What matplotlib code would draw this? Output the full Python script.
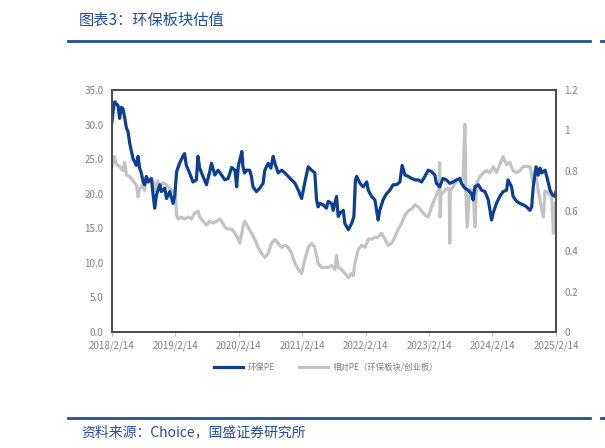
import pandas as pd
import matplotlib
matplotlib.use("Agg")
import matplotlib.pyplot as plt
from matplotlib.lines import Line2D

plt.rcParams['font.family'] = ['Noto Sans CJK SC', 'DejaVu Sans']

# 环保PE (left axis)
pe_dates = ['2018-02-14', '2018-02-23', '2018-03-02', '2018-03-10', '2018-03-20', '2018-03-30',
            '2018-04-08', '2018-04-18', '2018-04-28', '2018-05-08', '2018-05-17', '2018-05-27',
            '2018-06-06', '2018-06-16', '2018-06-25', '2018-07-04', '2018-07-14', '2018-07-23',
            '2018-08-02', '2018-08-12', '2018-08-21', '2018-08-31', '2018-09-10', '2018-09-29',
            '2018-10-09', '2018-10-18', '2018-10-28', '2018-11-16', '2018-11-26', '2018-12-15',
            '2018-12-25', '2019-01-13', '2019-02-01', '2019-02-11', '2019-02-21', '2019-03-10',
            '2019-03-29', '2019-04-08', '2019-04-18', '2019-05-07', '2019-05-26', '2019-06-15',
            '2019-06-24', '2019-07-04', '2019-07-23', '2019-08-12', '2019-08-31', '2019-09-10',
            '2019-09-29', '2019-10-18', '2019-11-07', '2019-11-26', '2019-12-15', '2020-01-04',
            '2020-01-23', '2020-02-02', '2020-02-11', '2020-02-20', '2020-03-03', '2020-03-09',
            '2020-03-19', '2020-03-29', '2020-04-17', '2020-04-27', '2020-05-06', '2020-05-26',
            '2020-06-14', '2020-07-03', '2020-07-13', '2020-08-01', '2020-08-17', '2020-08-30',
            '2020-09-09', '2020-09-28', '2020-10-18', '2020-11-06', '2020-11-25', '2020-12-14',
            '2021-01-03', '2021-01-22', '2021-02-10', '2021-03-01', '2021-03-20', '2021-04-08',
            '2021-04-27', '2021-05-07', '2021-05-16', '2021-05-26', '2021-06-14', '2021-07-03',
            '2021-07-13', '2021-08-01', '2021-08-11', '2021-08-30', '2021-09-09', '2021-09-19',
            '2021-10-08', '2021-10-17', '2021-11-06', '2021-11-25', '2021-12-08', '2021-12-17',
            '2021-12-24', '2022-01-12', '2022-01-31', '2022-02-20', '2022-03-01', '2022-03-20',
            '2022-04-08', '2022-04-27', '2022-05-06', '2022-05-25', '2022-06-14', '2022-07-03',
            '2022-07-22', '2022-08-11', '2022-08-30', '2022-09-12', '2022-09-28', '2022-10-17',
            '2022-11-06', '2022-11-25', '2022-12-14', '2023-01-02', '2023-01-21', '2023-02-09',
            '2023-02-28', '2023-03-19', '2023-03-28', '2023-04-16', '2023-05-05', '2023-05-25',
            '2023-06-13', '2023-07-02', '2023-07-22', '2023-08-10', '2023-08-20', '2023-09-08',
            '2023-09-27', '2023-10-17', '2023-10-26', '2023-11-05', '2023-11-24', '2023-12-14',
            '2024-01-02', '2024-01-21', '2024-02-09', '2024-02-18', '2024-03-08', '2024-03-27',
            '2024-04-15', '2024-05-05', '2024-05-14', '2024-06-03', '2024-06-12', '2024-07-02',
            '2024-07-21', '2024-08-09', '2024-08-29', '2024-09-17', '2024-09-27', '2024-10-06',
            '2024-10-22', '2024-11-04', '2024-11-14', '2024-11-24', '2024-12-13', '2024-12-26',
            '2025-01-11', '2025-01-26', '2025-02-09', '2025-02-14']
pe_values = [30.4, 32.5, 33.3, 33.0, 32.8, 30.9,
             32.5, 32.3, 31.0, 29.5, 29.0, 27.3,
             26.1, 25.0, 24.6, 24.1, 25.4, 23.7,
             23.0, 21.7, 21.3, 22.5, 21.7, 22.2,
             19.8, 17.9, 19.8, 21.3, 20.3, 20.8,
             19.3, 20.3, 18.6, 19.8, 23.2, 24.4,
             25.4, 25.8, 24.1, 23.0, 21.7, 22.0,
             25.4, 23.7, 22.5, 21.3, 23.2, 24.4,
             22.7, 23.4, 22.7, 22.0, 22.2, 23.8,
             23.4, 21.0, 23.9, 24.9, 26.1, 23.9,
             23.0, 23.4, 23.4, 22.5, 21.0, 20.3,
             20.8, 21.5, 23.4, 24.4, 23.7, 25.4,
             24.4, 23.0, 23.4, 23.0, 22.5, 22.0,
             21.5, 20.5, 19.3, 21.7, 23.9, 23.4,
             23.0, 19.1, 18.1, 18.6, 18.4, 17.9,
             18.9, 18.6, 17.6, 19.6, 16.7, 17.2,
             17.6, 15.7, 14.8, 15.7, 16.7, 22.0,
             22.5, 21.5, 21.0, 21.7, 20.5, 19.6,
             19.1, 16.2, 17.6, 19.1, 20.0, 20.5,
             21.3, 21.3, 21.7, 24.1, 22.7, 22.5,
             22.2, 22.0, 22.0, 21.7, 22.5, 23.4,
             23.2, 22.7, 21.5, 21.0, 22.2, 22.0,
             21.5, 21.7, 22.0, 22.2, 21.5, 20.8,
             20.5, 20.0, 19.1, 21.0, 21.3, 20.5,
             20.3, 19.1, 16.2, 17.2, 18.6, 19.6,
             20.3, 20.5, 22.0, 21.0, 19.6, 18.9,
             18.6, 18.4, 18.1, 17.6, 18.1, 21.0,
             23.9, 22.7, 23.7, 23.0, 23.4, 22.2,
             20.5, 19.8, 19.6, 20.3]

# 相对PE（环保板块/创业板） (right axis)
rel_dates = ['2018-02-14', '2018-02-27', '2018-03-13', '2018-03-30', '2018-04-18', '2018-04-28',
             '2018-05-08', '2018-05-27', '2018-06-15', '2018-07-04', '2018-07-14', '2018-07-23',
             '2018-08-12', '2018-08-21', '2018-08-31', '2018-09-19', '2018-10-09', '2018-10-18',
             '2018-11-03', '2018-11-16', '2018-12-05', '2018-12-25', '2019-01-13', '2019-02-01',
             '2019-02-15', '2019-02-21', '2019-03-02', '2019-03-21', '2019-04-08', '2019-04-28',
             '2019-05-17', '2019-06-05', '2019-06-24', '2019-07-04', '2019-07-23', '2019-08-12',
             '2019-08-31', '2019-09-19', '2019-10-08', '2019-10-28', '2019-11-07', '2019-11-26',
             '2019-12-15', '2020-01-04', '2020-01-23', '2020-02-11', '2020-02-20', '2020-03-09',
             '2020-03-19', '2020-04-07', '2020-04-27', '2020-05-16', '2020-06-04', '2020-06-24',
             '2020-07-13', '2020-08-01', '2020-08-21', '2020-09-09', '2020-09-28', '2020-10-18',
             '2020-11-06', '2020-11-25', '2020-12-14', '2021-01-03', '2021-01-22', '2021-02-10',
             '2021-03-01', '2021-03-20', '2021-04-08', '2021-04-27', '2021-05-16', '2021-06-05',
             '2021-06-24', '2021-07-13', '2021-08-01', '2021-08-21', '2021-08-30', '2021-09-09',
             '2021-09-28', '2021-10-17', '2021-11-06', '2021-11-25', '2021-12-04', '2021-12-14',
             '2022-01-02', '2022-01-22', '2022-02-10', '2022-03-01', '2022-03-20', '2022-04-08',
             '2022-04-27', '2022-05-16', '2022-06-05', '2022-06-24', '2022-07-13', '2022-08-01',
             '2022-08-21', '2022-09-09', '2022-09-28', '2022-10-17', '2022-11-06', '2022-11-25',
             '2022-12-14', '2023-01-02', '2023-01-21', '2023-02-09', '2023-02-28', '2023-03-19',
             '2023-04-07', '2023-04-12', '2023-04-16', '2023-04-19', '2023-04-24', '2023-05-05',
             '2023-05-25', '2023-06-10', '2023-06-13', '2023-06-16', '2023-07-02', '2023-07-22',
             '2023-08-10', '2023-08-29', '2023-09-08', '2023-09-14', '2023-09-21', '2023-10-06',
             '2023-10-26', '2023-11-05', '2023-11-15', '2023-12-04', '2023-12-23', '2024-01-12',
             '2024-01-31', '2024-02-18', '2024-03-08', '2024-03-27', '2024-04-15', '2024-05-05',
             '2024-05-24', '2024-06-12', '2024-07-02', '2024-07-21', '2024-08-09', '2024-08-29',
             '2024-09-17', '2024-10-06', '2024-10-16', '2024-11-04', '2024-11-14', '2024-12-03',
             '2024-12-13', '2025-01-01', '2025-01-21', '2025-01-30', '2025-02-09', '2025-02-14']
rel_values = [0.82, 0.87, 0.83, 0.82, 0.80, 0.84,
              0.78, 0.77, 0.75, 0.73, 0.67, 0.71,
              0.73, 0.70, 0.77, 0.75, 0.75, 0.70,
              0.75, 0.72, 0.74, 0.73, 0.71, 0.70,
              0.68, 0.58, 0.56, 0.57, 0.56, 0.57,
              0.56, 0.59, 0.60, 0.57, 0.55, 0.53,
              0.55, 0.54, 0.55, 0.56, 0.55, 0.52,
              0.51, 0.51, 0.49, 0.46, 0.44, 0.52,
              0.55, 0.52, 0.49, 0.46, 0.42, 0.39,
              0.37, 0.39, 0.44, 0.46, 0.44, 0.42,
              0.43, 0.42, 0.39, 0.34, 0.31, 0.29,
              0.36, 0.42, 0.44, 0.42, 0.34, 0.32,
              0.32, 0.32, 0.33, 0.31, 0.38, 0.32,
              0.31, 0.29, 0.27, 0.29, 0.28, 0.34,
              0.41, 0.43, 0.42, 0.46, 0.46, 0.47,
              0.47, 0.49, 0.46, 0.43, 0.44, 0.47,
              0.51, 0.54, 0.58, 0.60, 0.61, 0.63,
              0.62, 0.60, 0.58, 0.57, 0.62, 0.66,
              0.70, 0.70, 0.84, 0.57, 0.69, 0.69,
              0.71, 0.71, 0.44, 0.70, 0.72, 0.75,
              0.75, 0.76, 1.03, 0.70, 0.52, 0.71,
              0.70, 0.52, 0.74, 0.77, 0.79, 0.80,
              0.79, 0.82, 0.79, 0.83, 0.87, 0.83,
              0.84, 0.80, 0.79, 0.80, 0.82, 0.82,
              0.82, 0.74, 0.80, 0.70, 0.65, 0.57,
              0.70, 0.69, 0.67, 0.49, 0.64, 0.60]

tick_dates = ['2018-02-14', '2019-02-14', '2020-02-14', '2021-02-14',
              '2022-02-14', '2023-02-14', '2024-02-14', '2025-02-14']
tick_labels = ['2018/2/14', '2019/2/14', '2020/2/14', '2021/2/14',
               '2022/2/14', '2023/2/14', '2024/2/14', '2025/2/14']
left_ticks = [0, 5, 10, 15, 20, 25, 30, 35]
right_ticks = [0, 0.2, 0.4, 0.6, 0.8, 1.0, 1.2]
right_labels = ['0', '0.2', '0.4', '0.6', '0.8', '1', '1.2']

blue = '#0b3f94'
grey = '#c3c3c3'
navy = '#1f4e9a'
label_grey = '#7f7f7f'

fig = plt.figure(figsize=(6.05, 4.48), dpi=100)
ax = fig.add_axes([112/605, 1-332/448, 444/605, 242/448])
ax2 = ax.twinx()

l2, = ax2.plot(pd.to_datetime(rel_dates), rel_values, color=grey, lw=2.3,
               label='相对PE（环保板块/创业板）')
l1, = ax.plot(pd.to_datetime(pe_dates), pe_values, color=blue, lw=2.3, label='环保PE')
ax.set_zorder(ax2.get_zorder() + 1)
ax.patch.set_visible(False)

ax.set_xlim(pd.Timestamp('2018-02-14'), pd.Timestamp('2025-02-14'))
ax.set_ylim(0, 35)
ax2.set_ylim(0, 1.2)
ax.set_xticks(pd.to_datetime(tick_dates))
ax.set_xticklabels(tick_labels)
ax.set_yticks(left_ticks)
ax.set_yticklabels(['%.1f' % v for v in left_ticks])
ax2.set_yticks(right_ticks)
ax2.set_yticklabels(right_labels)

ax.tick_params(axis='x', direction='out', length=3, width=0.8, color='#bfbfbf',
               labelsize=7, labelcolor=label_grey, pad=3)
ax.tick_params(axis='y', length=0, labelsize=7, labelcolor=label_grey, pad=6)
ax2.tick_params(axis='y', length=0, labelsize=7, labelcolor=label_grey, pad=6)
for a in (ax, ax2):
    for s in a.spines.values():
        s.set_color('#4d4d4d')
        s.set_linewidth(1.4)

fig.legend(handles=[l1, l2], loc='center', bbox_to_anchor=(326/605, 1-367/448),
           ncol=2, frameon=False, fontsize=6, labelcolor=label_grey,
           handlelength=3.5, columnspacing=3, handletextpad=0.5)

# header / footer
fig.text(79/605, 1-20/448, '图表3：环保板块估值', fontsize=11, color=navy,
         style='italic', va='center', ha='left')
fig.text(81/605, 1-432/448, '资料来源：Choice，国盛证券研究所', fontsize=10, color=navy,
         style='italic', va='center', ha='left')
for yy in (41, 418):
    fig.add_artist(Line2D([68/605, 590/605], [1-yy/448, 1-yy/448], color=navy, lw=2))
    fig.add_artist(Line2D([601/605, 1.0], [1-yy/448, 1-yy/448], color=navy, lw=2))

fig.savefig('out.png', dpi=100)
